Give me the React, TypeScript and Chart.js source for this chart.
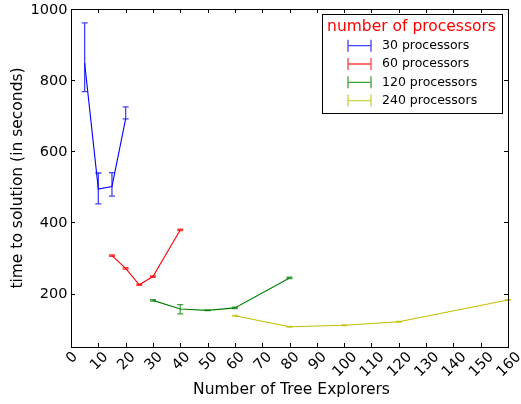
import React, { useEffect, useRef } from "react";
import { Chart, registerables } from "chart.js";
Chart.register(...registerables);

const xTicks = [0, 10, 20, 30, 40, 50, 60, 70, 80, 90, 100, 110, 120, 130, 140, 150, 160];
const yTicks = [200, 400, 600, 800, 1000];

const seriesLabels = ["30 processors", "60 processors", "120 processors", "240 processors"];
const seriesColors = ["#0000ff", "#ff0000", "#008000", "#bfbf00"];

const x30 = [5, 10, 15, 20];
const y30 = [848, 494, 501, 691];
const lo30 = [768, 452, 474, 691];
const hi30 = [961, 539, 540, 725];

const x60 = [15, 20, 25, 30, 40];
const y60 = [307, 271, 225, 248, 379];
const lo60 = [305, 269, 223, 246, 377];
const hi60 = [309, 273, 227, 250, 381];

const x120 = [30, 40, 50, 60, 80];
const y120 = [181, 157, 153, 160, 244];
const lo120 = [179, 143, 152, 158, 242];
const hi120 = [183, 169, 154, 162, 246];

const x240 = [60, 80, 100, 120, 160];
const y240 = [138, 107, 111, 121, 182];
const lo240 = [137, 106, 110, 120, 181];
const hi240 = [139, 108, 112, 122, 183];

const xTitle = "Number of Tree Explorers";
const yTitle = "time to solution (in seconds)";
const legendTitle = "number of processors";

const seriesX = [x30, x60, x120, x240];
const seriesY = [y30, y60, y120, y240];
const seriesLo = [lo30, lo60, lo120, lo240];
const seriesHi = [hi30, hi60, hi120, hi240];

const FONT = "'DejaVu Sans', sans-serif";

const errPlugin = {
  id: "errbars",
  afterDatasetsDraw(chart: any) {
    const ctx = chart.ctx;
    const xs = chart.scales.x;
    const ys = chart.scales.y;
    ctx.save();
    seriesX.forEach((xsArr, si) => {
      ctx.strokeStyle = seriesColors[si];
      ctx.globalAlpha = 0.75;
      ctx.lineWidth = 1.3;
      xsArr.forEach((xv, i) => {
        const px = xs.getPixelForValue(xv);
        const pl = ys.getPixelForValue(seriesLo[si][i]);
        const ph = ys.getPixelForValue(seriesHi[si][i]);
        ctx.beginPath();
        ctx.moveTo(px, pl);
        ctx.lineTo(px, ph);
        ctx.moveTo(px - 3, pl);
        ctx.lineTo(px + 3, pl);
        ctx.moveTo(px - 3, ph);
        ctx.lineTo(px + 3, ph);
        ctx.stroke();
      });
    });
    ctx.restore();
  },
  afterDraw(chart: any) {
    const ctx = chart.ctx;
    const { left, right, top, bottom } = chart.chartArea;
    const xs = chart.scales.x;
    const ys = chart.scales.y;
    ctx.save();
    ctx.strokeStyle = "#000";
    ctx.lineWidth = 1;
    ctx.strokeRect(Math.round(left) + 0.5, Math.round(top) + 0.5, Math.round(right - left), Math.round(bottom - top));
    // ticks
    ctx.beginPath();
    xTicks.forEach((v) => {
      const px = Math.round(xs.getPixelForValue(v)) + 0.5;
      ctx.moveTo(px, bottom);
      ctx.lineTo(px, bottom - 4);
      ctx.moveTo(px, top);
      ctx.lineTo(px, top + 4);
    });
    yTicks.forEach((v) => {
      const py = Math.round(ys.getPixelForValue(v)) + 0.5;
      ctx.moveTo(left, py);
      ctx.lineTo(left + 4, py);
      ctx.moveTo(right, py);
      ctx.lineTo(right - 4, py);
    });
    ctx.stroke();
    // tick labels
    ctx.fillStyle = "#000";
    ctx.font = `14.5px ${FONT}`;
    ctx.textAlign = "right";
    ctx.textBaseline = "middle";
    yTicks.forEach((v) => {
      ctx.fillText(String(v), left - 3.5, ys.getPixelForValue(v) + 1);
    });
    ctx.textAlign = "center";
    xTicks.forEach((v) => {
      const s = String(v);
      const px = xs.getPixelForValue(v);
      ctx.save();
      ctx.translate(px + 1, bottom + 7.5 + 3.4 * s.length);
      ctx.rotate(-Math.PI / 4);
      ctx.fillText(s, 0, 0);
      ctx.restore();
    });
    // titles
    ctx.font = `15.5px ${FONT}`;
    ctx.fillText(xTitle, (left + right) / 2 + 2, 390);
    ctx.save();
    ctx.translate(18, (top + bottom) / 2);
    ctx.rotate(-Math.PI / 2);
    ctx.fillText(yTitle, 0, 0);
    ctx.restore();
    // legend
    const lx = 322.5, ly = 14.5, lw = 180, lh = 99;
    ctx.fillStyle = "#fff";
    ctx.fillRect(lx, ly, lw, lh);
    ctx.strokeStyle = "#000";
    ctx.strokeRect(lx, ly, lw, lh);
    ctx.fillStyle = "#ff0000";
    ctx.font = `15.5px ${FONT}`;
    ctx.textAlign = "center";
    ctx.fillText(legendTitle, 411.5, 26.5);
    ctx.font = `12.5px ${FONT}`;
    ctx.textAlign = "left";
    seriesLabels.forEach((lab, i) => {
      const ry = 45.7 + i * 18.3;
      ctx.save();
      ctx.strokeStyle = seriesColors[i];
      ctx.globalAlpha = 0.75;
      ctx.lineWidth = 1.3;
      ctx.beginPath();
      ctx.moveTo(348, ry);
      ctx.lineTo(371, ry);
      ctx.moveTo(348, ry - 6);
      ctx.lineTo(348, ry + 6);
      ctx.moveTo(371, ry - 6);
      ctx.lineTo(371, ry + 6);
      ctx.stroke();
      ctx.restore();
      ctx.fillStyle = "#000";
      ctx.fillText(lab, 382, ry);
    });
    ctx.restore();
  },
};

export default function App() {
  const ref = useRef<HTMLCanvasElement>(null);
  useEffect(() => {
    if (!ref.current) return;
    const chart = new Chart(ref.current, {
      type: "line",
      data: {
        datasets: seriesLabels.map((lab, si) => ({
          label: lab,
          data: seriesX[si].map((xv, i) => ({ x: xv, y: seriesY[si][i] })),
          borderColor: seriesColors[si],
          backgroundColor: seriesColors[si],
          borderWidth: 1.1,
          pointRadius: 0,
          tension: 0,
          fill: false,
        })),
      },
      options: {
        animation: false,
        responsive: false,
        maintainAspectRatio: false,
        layout: { padding: { top: 9, right: 13, left: 0, bottom: 0 } },
        plugins: { legend: { display: false }, tooltip: { enabled: false } },
        scales: {
          x: {
            type: "linear",
            min: 0,
            max: 160,
            grid: { display: false },
            border: { display: false },
            ticks: { display: false },
            afterFit: (s: any) => { s.height = 57; },
          },
          y: {
            type: "linear",
            min: 50,
            max: 1000,
            grid: { display: false },
            border: { display: false },
            ticks: { display: false },
            afterFit: (s: any) => { s.width = 71; },
          },
        },
      },
      plugins: [errPlugin],
    } as any);
    return () => chart.destroy();
  }, []);
  return (
    <div style={{ position: "fixed", left: 0, top: 0, width: 521, height: 404, background: "#fff" }}>
      <canvas ref={ref} width={521} height={404} style={{ width: 521, height: 404 }} />
    </div>
  );
}
